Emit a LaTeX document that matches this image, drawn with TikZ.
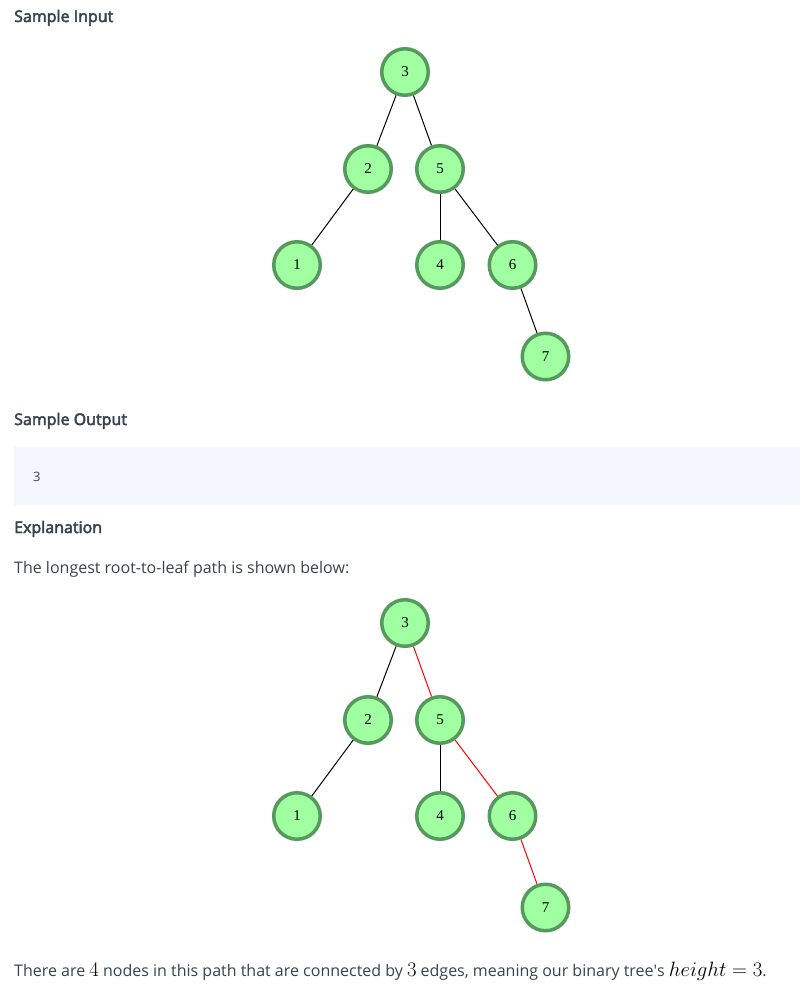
\documentclass[tikz,border=0pt]{standalone}
\usepackage{fontspec}
\setmainfont{Open Sans}
\newfontfamily\semib{Open Sans}[FakeBold=3]
\newfontfamily\plainos{Open Sans}
\newfontfamily\nodefont{Liberation Serif}
\definecolor{txt}{HTML}{39424E}
\definecolor{nodefill}{HTML}{A0FFA0}
\definecolor{nodedraw}{HTML}{56995C}
\definecolor{boxfill}{HTML}{F3F7FD}
\newcommand{\mth}[1]{{\fontsize{20}{20}\selectfont\color{black}$#1$}}
\begin{document}
\begin{tikzpicture}[x=1pt,y=-1pt,
  tn/.style={circle,draw=nodedraw,fill=nodefill,line width=3.5pt,minimum size=46.5pt,inner sep=0pt,
    font=\nodefont\fontsize{15}{15}\selectfont},
  edge/.style={line width=1pt,black},
  hl/.style={line width=1pt,red},
  head/.style={anchor=base west,inner sep=0pt,text=txt,font=\fontsize{16}{20}\selectfont\semib},
  body/.style={anchor=base west,inner sep=0pt,text=txt,font=\fontsize{16}{20}\selectfont}]
\useasboundingbox (0,0) rectangle (800,984);

\node[head] (h1) at (14,22) {Sample Input};

% first tree
\node[tn] (a3) at (405,72) {3};
\node[tn] (a2) at (368,169) {2};
\node[tn] (a5) at (440,169) {5};
\node[tn] (a1) at (297,265) {1};
\node[tn] (a4) at (440,265) {4};
\node[tn] (a6) at (512.5,265) {6};
\node[tn] (a7) at (545.5,356.5) {7};
\draw[edge] (a3) -- (a2);
\draw[edge] (a3) -- (a5);
\draw[edge] (a2) -- (a1);
\draw[edge] (a5) -- (a4);
\draw[edge] (a5) -- (a6);
\draw[edge] (a6) -- (a7);

\node[head] (h2) at (14,425) {Sample Output};
\node[fill=boxfill,minimum width=786pt,minimum height=57.5pt,inner sep=0pt,anchor=north west] (box) at (14,447) {};
\node[anchor=base west,inner sep=0pt,text=txt,font=\fontsize{13}{15}\selectfont] (out) at (33,481) {3};

\node[head] (h3) at (14,533) {Explanation};
\node[body] (p1) at (14,573) {The longest root-to-leaf path is shown below:};

% second tree
\node[tn] (b3) at (405,623) {3};
\node[tn] (b2) at (368,720) {2};
\node[tn] (b5) at (440,720) {5};
\node[tn] (b1) at (297,816) {1};
\node[tn] (b4) at (440,816) {4};
\node[tn] (b6) at (512.5,816) {6};
\node[tn] (b7) at (545.5,907.5) {7};
\draw[edge] (b3) -- (b2);
\draw[hl] (b3) -- (b5);
\draw[edge] (b2) -- (b1);
\draw[edge] (b5) -- (b4);
\draw[hl] (b5) -- (b6);
\draw[hl] (b6) -- (b7);

\node[body] (p2) at (14,976) {There are \mth{4} nodes in this path that are connected by \mth{3} edges, meaning our binary tree{\plainos'}s \mth{height=3}.};
\end{tikzpicture}
\end{document}
